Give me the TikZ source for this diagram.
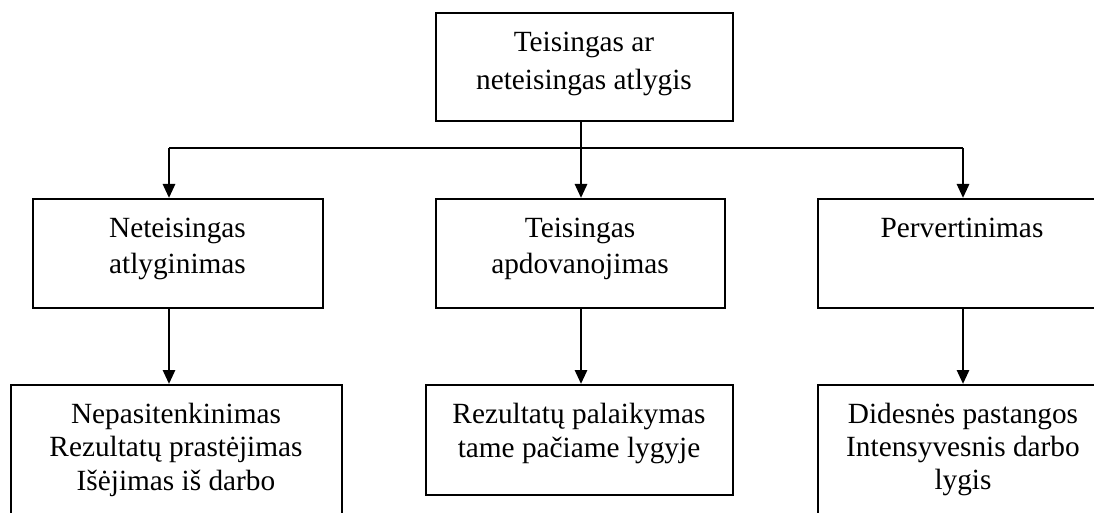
\documentclass[tikz,border=0pt]{standalone}
\usepackage{fontspec}
\setmainfont{Liberation Serif}
\usetikzlibrary{arrows.meta}

\begin{document}
\begin{tikzpicture}[x=1pt,y=-1pt,
  box/.style={draw, line width=2pt, inner sep=0pt},
  lbl/.style={align=center, anchor=base, inner sep=0pt},
  link/.style={line width=1.8pt},
  arr/.style={line width=2.8pt, -{Triangle[length=14pt,width=12pt]}}]
\useasboundingbox (0,0) rectangle (1094,513);
\begin{scope}
\clip (0,0) rectangle (1094,513);

% boxes
\node[box, minimum width=297pt, minimum height=108pt] (top) at (584.5,67) {};
\node[box, minimum width=290pt, minimum height=109pt] (ml) at (178,253.5) {};
\node[box, minimum width=289pt, minimum height=109pt] (mm) at (580.5,253.5) {};
\node[box, minimum width=290pt, minimum height=109pt] (mr) at (963,253.5) {};
\node[box, minimum width=331pt, minimum height=160pt] (bl) at (176.5,465) {};
\node[box, minimum width=307pt, minimum height=110pt] (bm) at (579.5,440) {};
\node[box, minimum width=290pt, minimum height=160pt] (br) at (963,465) {};

% labels (anchored at the baseline of their last line)
\node[lbl, font=\fontsize{29.3}{38}\selectfont] (tTop) at (584,90)
  {Teisingas ar\\neteisingas atlygis};
\node[lbl, font=\fontsize{29.3}{36}\selectfont] (tML) at (177.5,273)
  {Neteisingas\\atlyginimas};
\node[lbl, font=\fontsize{29.3}{36}\selectfont] (tMM) at (580,273)
  {Teisingas\\apdovanojimas};
\node[lbl, font=\fontsize{29.3}{36}\selectfont] (tMR) at (962,237)
  {Pervertinimas};
\node[lbl, font=\fontsize{29.3}{33.5}\selectfont] (tBL) at (176,490)
  {Nepasitenkinimas\\Rezultatų prastėjimas\\Išėjimas iš darbo};
\node[lbl, font=\fontsize{29.3}{34}\selectfont] (tBM) at (579,457)
  {Rezultatų palaikymas\\tame pačiame lygyje};
\node[lbl, font=\fontsize{29.3}{33}\selectfont] (tBR) at (963,489)
  {Didesnės pastangos\\Intensyvesnis darbo\\lygis};

% connectors
\coordinate (jL) at (169,148);
\coordinate (jM) at (581,148);
\coordinate (jR) at (963,148);
\draw[link] (jM |- top.south) -- (jM);
\draw[link] (jL) -- (jR);
\draw[arr] (jL) -- (jL |- ml.north);
\draw[arr] (jM) -- (jM |- mm.north);
\draw[arr] (jR) -- (jR |- mr.north);
\draw[arr] (jL |- ml.south) -- (jL |- bl.north);
\draw[arr] (jM |- mm.south) -- (jM |- bm.north);
\draw[arr] (jR |- mr.south) -- (jR |- br.north);
\end{scope}
\end{tikzpicture}
\end{document}
